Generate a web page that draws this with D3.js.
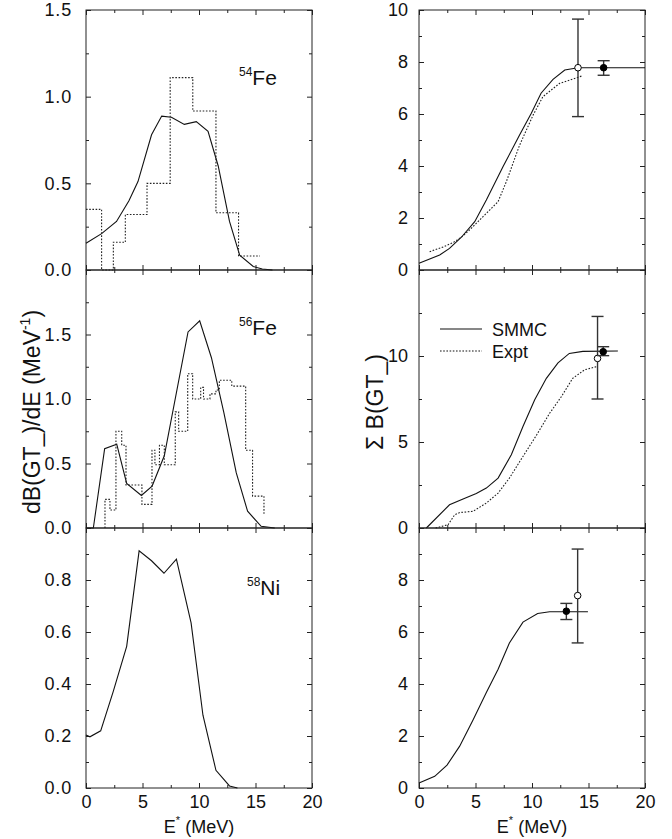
<!DOCTYPE html>
<html>
<head>
<meta charset="utf-8">
<script src="https://cdn.jsdelivr.net/npm/d3@7"></script>
<style>
  body { margin: 0; background: #fff; }
  svg { font-family: "Liberation Sans", Arial, Helvetica, sans-serif; }
</style>
</head>
<body>
<div id="wrapper"></div>
<script>
// ---- data ----
// dB/dE, SMMC curves (left column)
const e54Smmc = [0, 1.38, 2.7, 3.8, 4.6, 5.8, 6.7, 7.56, 8.7, 9.76, 10.8, 11.7, 12.7, 13.6, 14.8, 15.6, 16.5]
const d54Smmc = [0.154, 0.21, 0.28, 0.4, 0.51, 0.78, 0.888, 0.881, 0.84, 0.856, 0.80, 0.60, 0.28, 0.085, 0.02, 0.006, 0]
const e56Smmc = [0, 0.65, 1.65, 2.72, 3.6, 4.9, 5.85, 6.93, 9.03, 10.06, 11.1, 12.2, 13.3, 14.3, 15.5, 16.7]
const d56Smmc = [0, 0, 0.615, 0.65, 0.345, 0.252, 0.325, 0.56, 1.52, 1.606, 1.32, 0.894, 0.427, 0.13, 0.013, 0]
const e58Smmc = [0, 0.35, 1.3, 2.4, 3.6, 4.7, 5.8, 6.9, 8.0, 9.3, 10.35, 11.5, 12.7, 13.4]
const d58Smmc = [0.204, 0.197, 0.22, 0.37, 0.545, 0.912, 0.874, 0.826, 0.88, 0.635, 0.28, 0.068, 0.008, 0]

// dB/dE, experimental histograms (step edges, value from that edge on)
const e54Expt = [0, 1.38, 2.42, 3.48, 5.4, 7.45, 9.45, 11.5, 13.5, 15.4]
const d54Expt = [0.35, 0, 0.16, 0.32, 0.5, 1.11, 0.917, 0.33, 0.081, 0.081]
const e56Expt = [1.68, 1.68, 2.12, 2.65, 3.16, 3.54, 4.95, 5.84, 6.1, 6.5, 6.93, 7.9, 8.2, 9.0, 9.44, 10.15, 10.4, 10.97, 11.5, 11.8, 12.9, 14.13, 14.74, 15.75]
const d56Expt = [0, 0.222, 0.139, 0.75, 0.642, 0.333, 0.183, 0.603, 0.49, 0.642, 0.49, 0.9, 0.75, 1.196, 1.0, 1.09, 1.0, 1.04, 1.07, 1.145, 1.1, 0.603, 0.247, 0.1]

// running sums (right column)
const e54Sum = [0, 1.83, 2.7, 3.75, 4.93, 5.96, 7.43, 8.9, 9.94, 10.8, 11.86, 12.9, 14.07, 20]
const s54Sum = [0.256, 0.577, 0.83, 1.26, 1.86, 2.69, 3.97, 5.19, 6.03, 6.8, 7.33, 7.69, 7.78, 7.78]
const e54SumExpt = [0.94, 2.1, 3.0, 3.75, 4.5, 5.96, 7.0, 7.73, 8.9, 10.1, 10.97, 12.45, 14.4]
const s54SumExpt = [0.705, 0.88, 1.05, 1.26, 1.55, 2.18, 2.63, 3.4, 4.8, 5.96, 6.67, 7.18, 7.46]
const e56Sum = [0.65, 2.7, 3.9, 5.07, 5.96, 7.0, 8.17, 9.2, 10.24, 11.27, 12.3, 13.3, 14.5, 17.6]
const s56Sum = [0, 1.35, 1.68, 2.0, 2.32, 2.9, 4.26, 5.9, 7.45, 8.7, 9.6, 10.15, 10.27, 10.29]
const e56SumExpt = [1.47, 2.57, 3.16, 3.6, 4.78, 5.96, 7.0, 8.0, 9.2, 10.4, 11.56, 12.6, 13.6, 14.66, 15.7]
const s56SumExpt = [0, 0.19, 0.77, 0.9, 0.97, 1.45, 2.03, 2.9, 4.16, 5.4, 6.67, 7.64, 8.7, 9.2, 9.38]
const e58Sum = [0, 1.39, 2.48, 3.6, 4.78, 5.96, 7.0, 8.0, 9.2, 10.5, 11.56, 14.95]
const s58Sum = [0.19, 0.45, 0.88, 1.61, 2.62, 3.67, 4.57, 5.58, 6.38, 6.71, 6.78, 6.78]

// total strength points: [E, value, low, high]
const pts54Open = [14.07, 7.78, 5.9, 9.65]
const pts54Fill = [16.34, 7.78, 7.49, 8.05]
const pts56Open = [15.8, 9.86, 7.5, 12.3]
const pts56Fill = [16.3, 10.25, 10.02, 10.54]
const pts58Fill = [13.04, 6.8, 6.48, 7.1]
const pts58Open = [14.04, 7.4, 5.58, 9.19]

const xTicks = [0, 5, 10, 15, 20]
const xMinor = [2.5, 7.5, 12.5, 17.5]
const nuclei = ["54", "56", "58"]
const nucleiSym = ["Fe", "Fe", "Ni"]
const legendNames = ["SMMC", "Expt"]

// ---- layout ----
const width = 672, height = 839
const cols = [{ left: 86, right: 312 }, { left: 419, right: 645 }]
const rows = [{ top: 10, bottom: 270 }, { top: 270, bottom: 528 }, { top: 528, bottom: 788 }]

const svg = d3.select("#wrapper").append("svg")
    .attr("width", width)
    .attr("height", height)

const zip = (xs, ys) => xs.map((x, i) => [x, ys[i]])

function panel(col, row, opts) {
    const c = cols[col], r = rows[row]
    const x = d3.scaleLinear().domain([0, 20]).range([c.left, c.right])
    const y = d3.scaleLinear().domain(opts.domain).range([r.bottom, r.top])
    const g = svg.append("g")

    const strip = a => a.call(s => s.select(".domain").remove())
        .selectAll("text").attr("font-size", 18).attr("fill", "#111")

    // minor ticks
    g.append("g").attr("transform", `translate(${c.left},0)`)
        .call(d3.axisLeft(y).tickValues(opts.minor).tickSize(-3).tickFormat(""))
        .call(strip)
    g.append("g").attr("transform", `translate(${c.right},0)`)
        .call(d3.axisRight(y).tickValues(opts.minor).tickSize(-3).tickFormat(""))
        .call(strip)
    g.append("g").attr("transform", `translate(0,${r.bottom})`)
        .call(d3.axisBottom(x).tickValues(xMinor).tickSize(-3).tickFormat(""))
        .call(strip)
    g.append("g").attr("transform", `translate(0,${r.top})`)
        .call(d3.axisTop(x).tickValues(xMinor).tickSize(-3).tickFormat(""))
        .call(strip)

    // major ticks
    g.append("g").attr("transform", `translate(${c.left},0)`)
        .call(d3.axisLeft(y).tickValues(opts.ticks).tickSize(-5)
            .tickPadding(col === 0 ? 14 : 11).tickFormat(d3.format(opts.fmt)))
        .call(strip)
        .attr("letter-spacing", col === 0 ? 0.8 : 0)
    g.append("g").attr("transform", `translate(${c.right},0)`)
        .call(d3.axisRight(y).tickValues(opts.ticks.concat(opts.domain[1])).tickSize(-5).tickFormat(""))
        .call(strip)
    g.append("g").attr("transform", `translate(0,${r.bottom})`)
        .call(d3.axisBottom(x).tickValues(xTicks).tickSize(-5).tickPadding(7)
            .tickFormat(row === 2 ? d3.format("d") : ""))
        .call(strip)
    g.append("g").attr("transform", `translate(0,${r.top})`)
        .call(d3.axisTop(x).tickValues(xTicks).tickSize(-5).tickFormat(""))
        .call(strip)
    g.selectAll(".tick line").attr("stroke", "#222")

    g.append("rect")
        .attr("x", c.left).attr("y", r.top)
        .attr("width", c.right - c.left).attr("height", r.bottom - r.top)
        .attr("fill", "none").attr("stroke", "#222").attr("stroke-width", 1)

    const line = d3.line().x(d => x(d[0])).y(d => y(d[1]))
    const step = d3.line().x(d => x(d[0])).y(d => y(d[1])).curve(d3.curveStepAfter)

    if (opts.smmc) g.append("path").attr("d", line(opts.smmc))
        .attr("fill", "none").attr("stroke", "#111").attr("stroke-width", 1.1)
    if (opts.expt) g.append("path").attr("d", line(opts.expt))
        .attr("fill", "none").attr("stroke", "#222").attr("stroke-width", 1.1)
        .attr("stroke-dasharray", "1.6,1.6")
    if (opts.hist) g.append("path").attr("d", step(opts.hist))
        .attr("fill", "none").attr("stroke", "#222").attr("stroke-width", 1.1)
        .attr("stroke-dasharray", "1.6,1.6")

    ;(opts.points || []).forEach(p => {
        const [e, v, lo, hi, filled] = p
        const px = x(e)
        g.append("line").attr("x1", px).attr("x2", px).attr("y1", y(lo)).attr("y2", y(hi))
            .attr("stroke", "#333").attr("stroke-width", 1.4)
        ;[lo, hi].forEach(b => g.append("line")
            .attr("x1", px - 6).attr("x2", px + 6).attr("y1", y(b)).attr("y2", y(b))
            .attr("stroke", "#333").attr("stroke-width", 1.4))
        g.append("circle").attr("cx", px).attr("cy", y(v)).attr("r", 3.3)
            .attr("fill", filled ? "#000" : "#fff").attr("stroke", "#000").attr("stroke-width", 1)
    })

    return { x, y, g }
}

const lt = panel(0, 0, { domain: [0, 1.5], ticks: [0, 0.5, 1.0, 1.5], minor: [0.25, 0.75, 1.25], fmt: ".1f",
    smmc: zip(e54Smmc, d54Smmc), hist: zip(e54Expt, d54Expt) })
const lm = panel(0, 1, { domain: [0, 2.0], ticks: [0, 0.5, 1.0, 1.5], minor: [0.25, 0.75, 1.25, 1.75], fmt: ".1f",
    smmc: zip(e56Smmc, d56Smmc), hist: zip(e56Expt, d56Expt) })
const lb = panel(0, 2, { domain: [0, 1.0], ticks: [0, 0.2, 0.4, 0.6, 0.8], minor: [0.1, 0.3, 0.5, 0.7, 0.9], fmt: ".1f",
    smmc: zip(e58Smmc, d58Smmc) })
const rt = panel(1, 0, { domain: [0, 10], ticks: [0, 2, 4, 6, 8, 10], minor: [1, 3, 5, 7, 9], fmt: "d",
    smmc: zip(e54Sum, s54Sum), expt: zip(e54SumExpt, s54SumExpt),
    points: [pts54Open.concat(false), pts54Fill.concat(true)] })
const rm = panel(1, 1, { domain: [0, 15], ticks: [0, 5, 10], minor: [2.5, 7.5, 12.5], fmt: "d",
    smmc: zip(e56Sum, s56Sum), expt: zip(e56SumExpt, s56SumExpt),
    points: [pts56Open.concat(false), pts56Fill.concat(true)] })
const rb = panel(1, 2, { domain: [0, 10], ticks: [0, 2, 4, 6, 8], minor: [1, 3, 5, 7, 9], fmt: "d",
    smmc: zip(e58Sum, s58Sum), points: [pts58Fill.concat(true), pts58Open.concat(false)] })

// nucleus labels
;[[lt, 85], [lm, 335], [lb, 595]].forEach(([p, by], i) => {
    const t = svg.append("text").attr("x", i === 2 ? 247 : 239).attr("y", by).attr("fill", "#111")
    t.append("tspan").attr("font-size", 12).attr("dy", -9).text(nuclei[i])
    t.append("tspan").attr("font-size", 21).attr("dy", 9).text(nucleiSym[i])
})

// legend in middle right panel
legendNames.forEach((name, i) => {
    const ly = 329 + i * 22
    svg.append("line").attr("x1", 440).attr("x2", 482).attr("y1", ly).attr("y2", ly)
        .attr("stroke", "#111").attr("stroke-width", 1.1)
        .attr("stroke-dasharray", i === 1 ? "1.6,1.6" : null)
    svg.append("text").attr("x", 492).attr("y", ly + 7).attr("font-size", 18).attr("fill", "#111").text(name)
})

// axis titles
const yt = svg.append("text").attr("transform", "translate(40,412) rotate(-90)")
    .attr("text-anchor", "middle").attr("font-size", 23).attr("fill", "#111")
yt.append("tspan").text("dB(GT_)/dE (MeV")
yt.append("tspan").attr("font-size", 14).attr("dy", -10).text("-1")
yt.append("tspan").attr("dy", 10).text(")")

svg.append("text").attr("transform", "translate(383,402) rotate(-90)")
    .attr("text-anchor", "middle").attr("font-size", 23).attr("fill", "#111")
    .text("Σ B(GT_)")

;[199, 532].forEach(cx => {
    const t = svg.append("text").attr("x", cx).attr("y", 833).attr("text-anchor", "middle")
        .attr("font-size", 18).attr("fill", "#111")
    t.append("tspan").text("E")
    t.append("tspan").attr("font-size", 11).attr("dy", -9).text("*")
    t.append("tspan").attr("dy", 9).text(" (MeV)")
})
</script>
</body>
</html>
